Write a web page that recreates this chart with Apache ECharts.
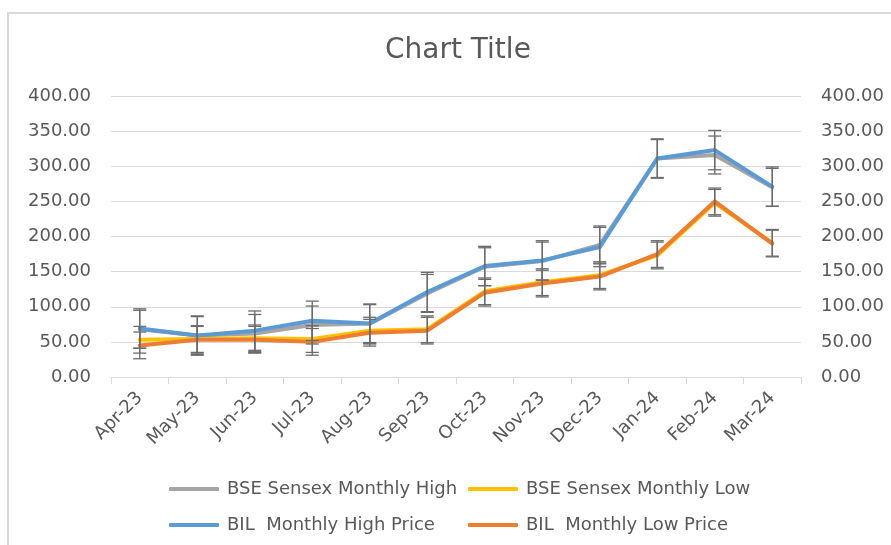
<!DOCTYPE html>
<html>
<head>
<meta charset="utf-8">
<script src="https://cdn.jsdelivr.net/npm/echarts@6/dist/echarts.min.js"></script>
<style>
  html, body { margin: 0; padding: 0; background: #fff; }
  #chart { width: 891px; height: 545px; }
</style>
</head>
<body>
<div id="chart"></div>
<script>
  // months on the x axis
  var months = ['Apr-23', 'May-23', 'Jun-23', 'Jul-23', 'Aug-23', 'Sep-23',
                'Oct-23', 'Nov-23', 'Dec-23', 'Jan-24', 'Feb-24', 'Mar-24']
  var seriesNames = ['BSE Sensex Monthly High', 'BSE Sensex Monthly Low',
                     'BIL  Monthly High Price', 'BIL  Monthly Low Price']
  // values
  var bseHigh = [68, 59, 62, 74, 76, 119, 157, 165, 188, 311, 316, 270]
  var bseLow  = [53, 54, 55, 54, 66, 68, 122, 135, 145, 173, 248, 191]
  var bilHigh = [69, 59, 66, 80, 76, 121, 158, 166, 185, 311, 323, 271]
  var bilLow  = [45, 53, 53, 50, 63, 66, 120, 133, 143, 175, 250, 190]
  // error bar size (+/-) per series
  var errSize = [27, 19, 28, 19]

  var colors = ['#A5A5A5', '#FFC000', '#5B9BD5', '#ED7D31']
  var allData = [bseHigh, bseLow, bilHigh, bilLow]
  var font = '"DejaVu Sans", sans-serif'
  var txtColor = '#595959'

  var chart = echarts.init(document.getElementById('chart'))

  function errorBars(values, err) {
    return {
      type: 'custom',
      z: 5,
      silent: true,
      data: values.map(function (v, i) { return [i, v, err] }),
      renderItem: function (params, api) {
        var i = api.value(0), v = api.value(1), e = api.value(2)
        var top = api.coord([i, v + e])
        var bot = api.coord([i, v - e])
        var x = top[0], w = 6.5
        var st = { stroke: '#6b6b6b', lineWidth: 1.3 }
        return {
          type: 'group',
          children: [
            { type: 'line', shape: { x1: x, y1: top[1], x2: x, y2: bot[1] }, style: st },
            { type: 'line', shape: { x1: x - w, y1: top[1], x2: x + w, y2: top[1] }, style: st },
            { type: 'line', shape: { x1: x - w, y1: bot[1], x2: x + w, y2: bot[1] }, style: st }
          ]
        }
      }
    }
  }

  var series = []
  allData.forEach(function (d, k) {
    series.push({
      name: seriesNames[k],
      type: 'line',
      data: d,
      showSymbol: false,
      z: 2 + k * 0.1,
      color: colors[k],
      lineStyle: { width: 4, color: colors[k], cap: 'round', join: 'round' }
    })
  })
  allData.forEach(function (d, k) {
    series.push(errorBars(d, errSize[k]))
  })

  var legendPos = [[164, 475], [463, 475], [164, 511], [463, 511]]
  var legends = seriesNames.map(function (n, k) {
    return {
      left: legendPos[k][0], top: legendPos[k][1],
      data: [n],
      icon: 'roundRect',
      itemWidth: 50, itemHeight: 4,
      itemGap: 0,
      textStyle: { color: txtColor, fontSize: 18, fontFamily: font, padding: [0, 0, 0, 3] }
    }
  })

  var yLabel = {
    color: txtColor, fontSize: 18, fontFamily: font, margin: 20,
    formatter: function (v) { return v.toFixed(2) }
  }

  var option = {
    backgroundColor: '#fff',
    animation: false,
    title: {
      text: 'Chart Title',
      left: 380, top: 32,
      textStyle: { color: txtColor, fontSize: 28, fontWeight: 'normal', fontFamily: font }
    },
    legend: legends,
    grid: { left: 111, right: 90, top: 96, bottom: 168 },
    xAxis: {
      type: 'category',
      data: months,
      boundaryGap: true,
      axisLine: { lineStyle: { color: '#D9D9D9' } },
      axisTick: { show: true, length: 7, lineStyle: { color: '#D9D9D9' } },
      axisLabel: { rotate: 45, color: txtColor, fontSize: 18, fontFamily: font, margin: 18, interval: 0 }
    },
    yAxis: [{
      type: 'value', min: 0, max: 400, interval: 50,
      axisLine: { show: false }, axisTick: { show: false },
      splitLine: { lineStyle: { color: '#D9D9D9' } },
      axisLabel: yLabel
    }, {
      type: 'value', min: 0, max: 400, interval: 50, position: 'right',
      axisLine: { show: false }, axisTick: { show: false },
      splitLine: { show: false },
      axisLabel: yLabel
    }],
    graphic: [{
      type: 'rect',
      shape: { x: 8, y: 13, width: 1000, height: 1000 },
      style: { fill: 'none', stroke: '#D9D9D9', lineWidth: 2 },
      silent: true
    }],
    series: series
  }

  chart.setOption(option)
</script>
</body>
</html>
